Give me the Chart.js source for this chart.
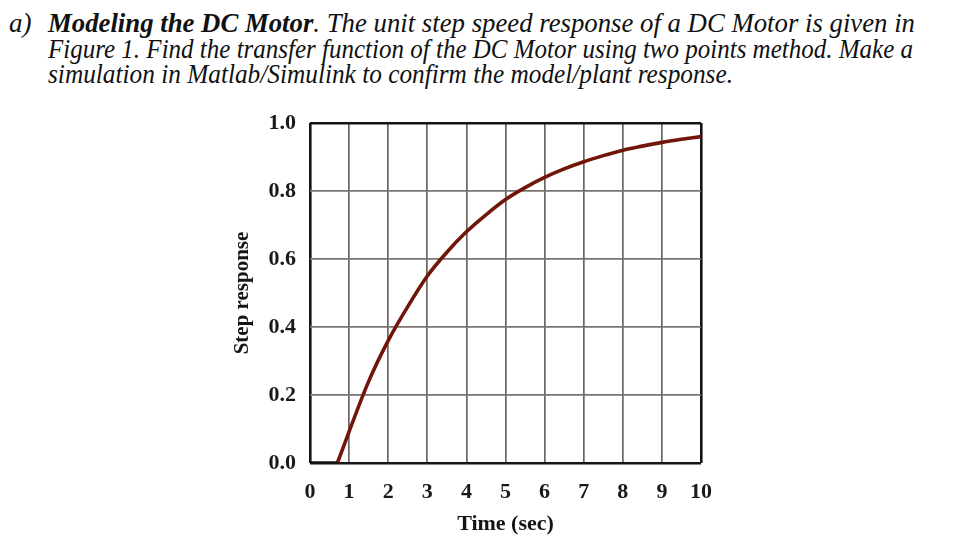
<!DOCTYPE html>
<html>
<head>
<meta charset="utf-8">
<script src="https://cdn.jsdelivr.net/npm/chart.js@4/dist/chart.umd.min.js"></script>
<style>
  html, body { margin: 0; padding: 0; background: #fff; }
  body { width: 958px; height: 539px; position: relative; overflow: hidden; }
  .line { position: absolute; left: 48px; white-space: nowrap; font-family: "Liberation Serif", "DejaVu Serif", serif;
          font-style: italic; font-size: 27px; line-height: 26px; color: #111; transform-origin: 0 0; }
  .lab { position: absolute; left: 9px; top: 10px; font-family: "Liberation Serif", serif; font-style: italic;
         font-size: 27px; line-height: 26px; color: #111; }
  #wrap { position: absolute; left: 0; top: 0; width: 958px; height: 539px; }
</style>
</head>
<body>
<div class="lab">a)</div>
<div class="line" id="l1" data-w="867" style="top:10px"><b>Modeling the DC Motor</b>. The unit step speed response of a DC Motor is given in</div>
<div class="line" id="l2" data-w="865" style="top:36px">Figure 1. Find the transfer function of the DC Motor using two points method. Make a</div>
<div class="line" id="l3" data-w="685" style="top:61px">simulation in Matlab/Simulink to confirm the model/plant response.</div>
<div id="wrap"><canvas id="c" width="958" height="539"></canvas></div>
<script>
// ---- data ----
// dead-time part (flat at zero)
const deadTime      = [0, 0.7];
const deadResponse  = [0, 0];
// rising part
const timeSec       = [0.7, 1.5, 2, 2.5, 3, 3.5, 4, 4.5, 5, 5.5, 6, 6.5, 7, 7.5, 8, 8.5, 9, 9.5, 10];
const stepResponse  = [0, 0.24, 0.36, 0.46, 0.55, 0.62, 0.68, 0.73, 0.775, 0.81, 0.84, 0.865, 0.886, 0.904, 0.92, 0.932, 0.943, 0.952, 0.96];
const xTicks = [0, 1, 2, 3, 4, 5, 6, 7, 8, 9, 10];
const yTicks = ['0.0', '0.2', '0.4', '0.6', '0.8', '1.0'];
const xTitle = 'Time (sec)';
const yTitle = 'Step response';

document.querySelectorAll('.line').forEach(el => {
  const w = el.getBoundingClientRect().width;
  el.style.transform = 'scaleX(' + (+el.dataset.w / w) + ')';
});

const serif = '"Liberation Serif", "DejaVu Serif", serif';
const toPts = (xs, ys) => xs.map((t, i) => ({ x: t, y: ys[i] }));
const edge = (c, a, b) => c.tick && (c.tick.value === a || c.tick.value === b);

new Chart(document.getElementById('c'), {
  type: 'scatter',
  data: {
    datasets: [{
      data: toPts(deadTime, deadResponse),
      showLine: true, borderColor: '#151010', borderWidth: 3.5, pointRadius: 0
    }, {
      data: toPts(timeSec, stepResponse),
      showLine: true, borderColor: '#711609', borderWidth: 3.6, pointRadius: 0,
      cubicInterpolationMode: 'monotone'
    }]
  },
  options: {
    responsive: false,
    animation: false,
    events: [],
    plugins: { legend: { display: false }, tooltip: { enabled: false } },
    layout: { padding: { left: 230, top: 123, right: 257, bottom: 0 } },
    scales: {
      x: {
        type: 'linear', min: 0, max: 10,
        afterFit: s => { s.height = 76; },
        afterBuildTicks: s => { s.ticks = xTicks.map(v => ({ value: v })); },
        border: { display: false },
        grid: {
          drawTicks: false,
          color: c => edge(c, 0, 10) ? '#141414' : '#6a6561',
          lineWidth: c => edge(c, 0, 10) ? 2.6 : 1.7
        },
        ticks: { maxRotation: 0, padding: 16, color: '#1a1a1a', font: { family: serif, size: 22, weight: 'bold' } },
        title: { display: true, text: xTitle, color: '#151515', font: { family: serif, size: 22, weight: 'bold' }, padding: { top: 0, bottom: 1 } }
      },
      y: {
        min: 0, max: 1,
        afterFit: s => { s.width = 80; },
        afterBuildTicks: s => { s.ticks = yTicks.map(v => ({ value: parseFloat(v) })); },
        border: { display: false },
        grid: {
          drawTicks: false,
          color: c => edge(c, 0, 1) ? '#141414' : '#7a7470',
          lineWidth: c => edge(c, 0, 1) ? 2.6 : 1.7
        },
        ticks: { padding: 14, color: '#1a1a1a', font: { family: serif, size: 22, weight: 'bold' },
                 callback: v => yTicks.find(t => parseFloat(t) === v) },
        title: { display: true, text: yTitle, color: '#151515', font: { family: serif, size: 21, weight: 'bold' }, padding: 0 }
      }
    }
  }
});
</script>
</body>
</html>
